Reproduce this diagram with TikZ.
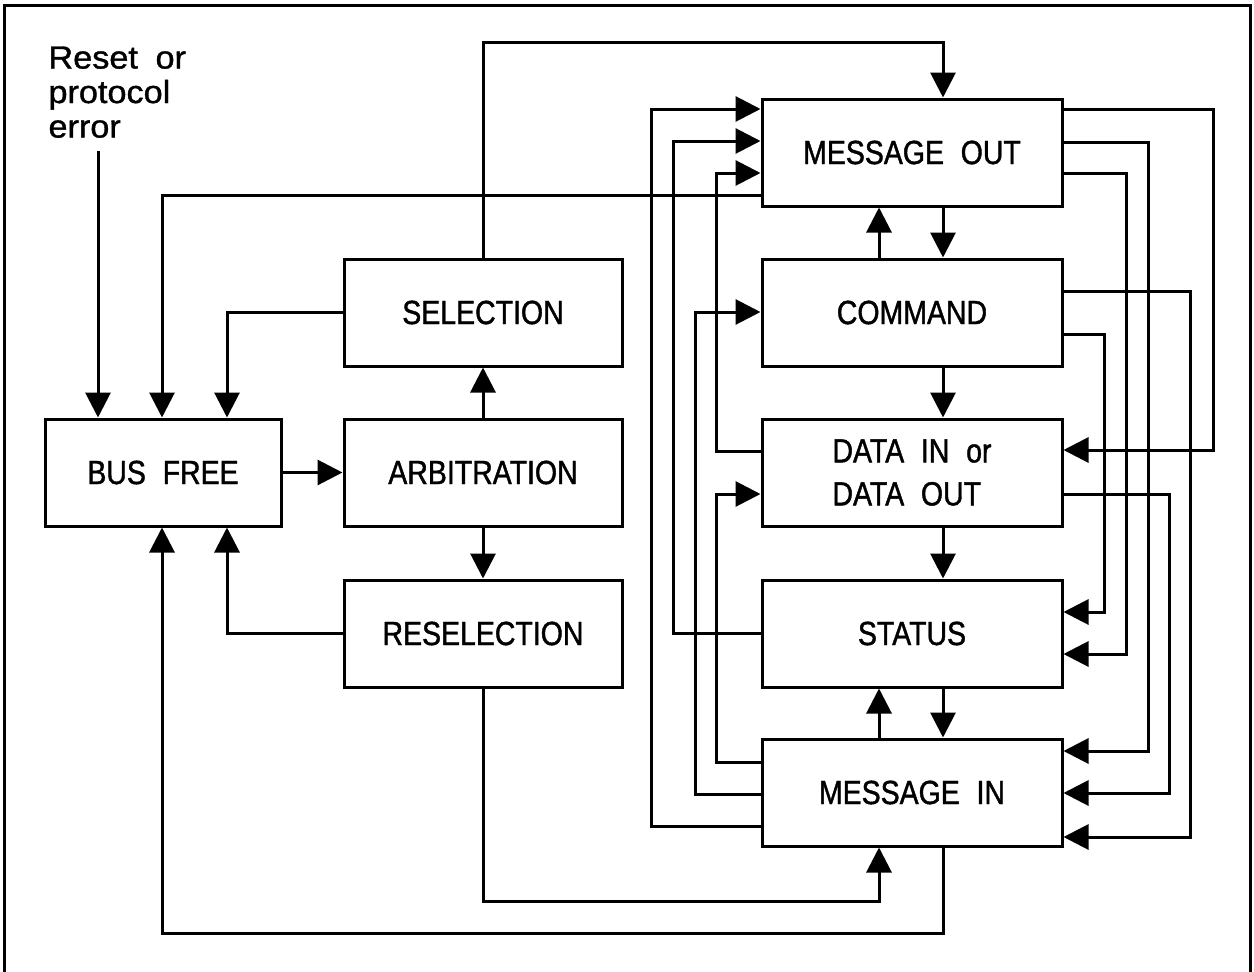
\documentclass[tikz,border=0pt]{standalone}
\usepackage{fontspec}
\setmainfont{Liberation Sans}[FakeStretch=0.85,FakeBold=1.2]
\newfontfamily\rsfont{Liberation Sans}[FakeStretch=1.07,FakeBold=1.2]
\usetikzlibrary{arrows.meta}
\newcommand\wgap{\hspace{0.5em}}
\begin{document}
\begin{tikzpicture}[x=1pt,y=-1pt,line width=3pt,
  box/.style={draw,minimum width=300pt,minimum height=107pt,inner sep=0pt,
    font=\fontsize{33.5}{43}\selectfont,align=center},
  sbox/.style={box,minimum width=278pt},
  arr/.style={-{Triangle[length=25pt,width=25pt]}}]
\useasboundingbox (0,0) rectangle (1254,972);
\draw (4,980) -- (4,5) -- (1250,5) -- (1250,980);

% nodes
\node[sbox,minimum width=236pt] (bf) at (163,472.5) {BUS\wgap FREE};
\node[sbox] (arb) at (483,472.5) {ARBITRATION};
\node[sbox] (sel) at (483,312.5) {SELECTION};
\node[sbox] (res) at (483,633.5) {RESELECTION};
\node[box] (mo) at (912,152.5) {MESSAGE\wgap OUT};
\node[box] (cmd) at (912,312.5) {COMMAND};
\node[box,align=left] (dat) at (912,472.5) {DATA\wgap IN\wgap or\\DATA\wgap OUT};
\node[box] (st) at (912,633.5) {STATUS};
\node[box] (mi) at (912,792.5) {MESSAGE\wgap IN};
\node[font=\rsfont\fontsize{32}{34.5}\selectfont,align=left,anchor=north west,inner sep=0pt] (rst) at (47,45) {Reset\hspace{0.55em}or\\protocol\\error};
\coordinate (rs0) at (98,151);

% left column
\draw[arr] (rs0) -- (rs0 |- bf.north);
\draw[arr] (bf.east) -- (arb.west);
\draw[arr] (arb.north) -- (sel.south);
\draw[arr] (arb.south) -- (res.north);
\draw[arr] (sel.west) -| (bf.north -| 227,0);
\draw[arr] (res.west) -| (bf.south -| 227,0);
\draw[arr] (mo.west |- 0,195) -| (bf.north -| 162,0);
\draw[arr] (mi.south -| 943,0) -- ++(0,86) -| (bf.south -| 162,0);
\draw[arr] (sel.north) -- ++(0,-215) -| (mo.north -| 943,0);
\draw[arr] (res.south) -- ++(0,213) -| (mi.south -| 879,0);

% middle
\draw[arr] (cmd.north -| 879,0) -- (mo.south -| 879,0);
\draw[arr] (mo.south -| 943,0) -- (cmd.north -| 943,0);
\draw[arr] (cmd.south -| 943,0) -- (dat.north -| 943,0);
\draw[arr] (dat.south -| 943,0) -- (st.north -| 943,0);
\draw[arr] (mi.north -| 879,0) -- (st.south -| 879,0);
\draw[arr] (st.south -| 943,0) -- (mi.north -| 943,0);

% right side
\draw[arr] (mo.east |- 0,109) -- ++(150,0) |- (dat.east |- 0,450);
\draw[arr] (mo.east |- 0,142) -- ++(85,0) |- (mi.east |- 0,751);
\draw[arr] (mo.east |- 0,173) -- ++(63,0) |- (st.east |- 0,654);
\draw[arr] (cmd.east |- 0,291) -- ++(127,0) |- (mi.east |- 0,837);
\draw[arr] (cmd.east |- 0,334) -- ++(41,0) |- (st.east |- 0,612);
\draw[arr] (dat.east |- 0,494) -- ++(106,0) |- (mi.east |- 0,793);

% left of right column
\draw[arr] (mi.west |- 0,826) -- ++(-109,0) |- (mo.west |- 0,109);
\draw[arr] (st.west |- 0,633) -- ++(-87,0) |- (mo.west |- 0,141);
\draw[arr] (dat.west |- 0,451) -- ++(-44,0) |- (mo.west |- 0,173);
\draw[arr] (mi.west |- 0,794) -- ++(-65,0) |- (cmd.west |- 0,312);
\draw[arr] (mi.west |- 0,762) -- ++(-44,0) |- (dat.west |- 0,494);
\end{tikzpicture}
\end{document}
